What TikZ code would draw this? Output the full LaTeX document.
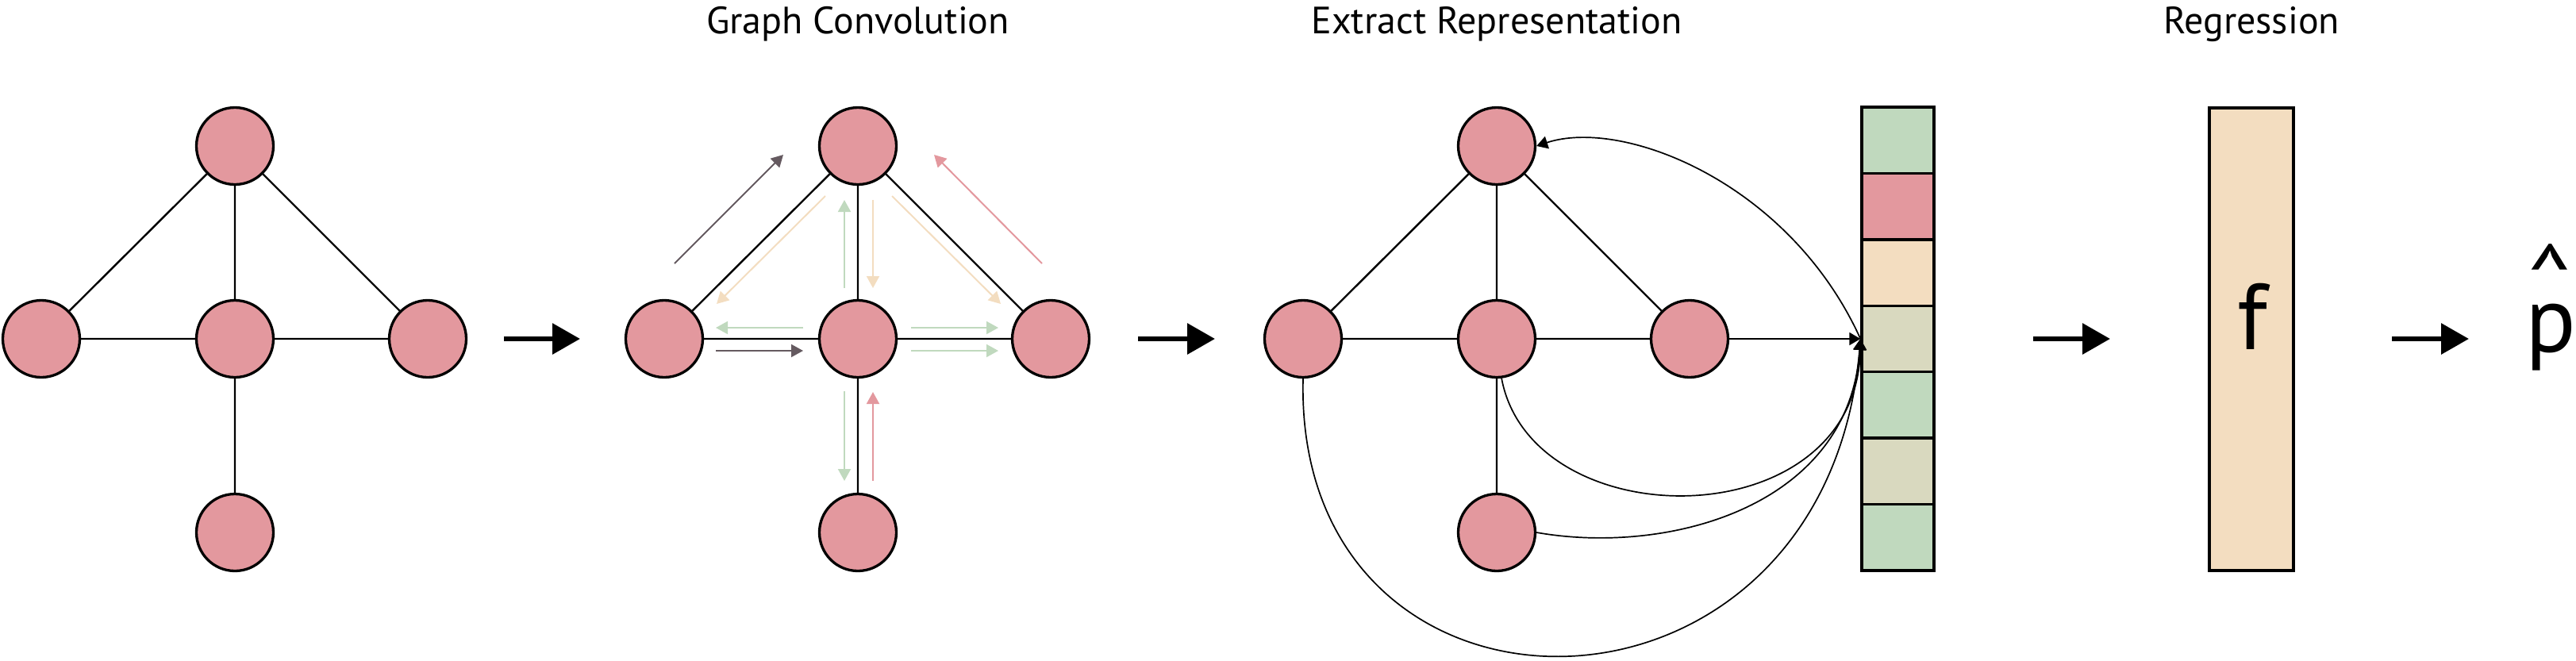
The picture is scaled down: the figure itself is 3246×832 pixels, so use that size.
\documentclass[tikz,border=0pt]{standalone}
\usepackage{fontspec}
\setmainfont{PT Sans}
\usetikzlibrary{arrows.meta}
\definecolor{nodepink}{HTML}{E3989E}
\definecolor{cgreen}{HTML}{C0D9BE}
\definecolor{cpeach}{HTML}{F3DDC0}
\definecolor{ckhaki}{HTML}{D9D9BF}
\definecolor{cdark}{HTML}{655A60}
\begin{document}
\begin{tikzpicture}[x=0.5pt,y=-0.5pt,
  gnode/.style={circle, draw=black, fill=nodepink, line width=1.65pt, minimum size=48.5pt, inner sep=0pt},
  gedge/.style={line width=1.2pt},
  flow/.style={line width=1pt, -{Triangle[length=7.5pt,width=8pt]}},
  bigarrow/.style={line width=3.2pt, -{Triangle[length=17.5pt,width=19pt]}},
  readout/.style={line width=0.85pt, -{Triangle[length=7pt,width=8pt]}},
  cell/.style={draw=black, line width=1.65pt, minimum width=45.5pt, minimum height=41.7pt, inner sep=0pt},
  title/.style={font=\fontsize{24}{28}\selectfont, anchor=base, inner sep=0pt},
]
\path[use as bounding box] (0,0) rectangle (3246,832);

% ---------- Panel 1 ----------
\node[gnode] (t1) at (296,184) {};
\node[gnode] (l1) at (52,427) {};
\node[gnode] (c1) at (296,427) {};
\node[gnode] (r1) at (539,427) {};
\node[gnode] (b1) at (296,671) {};
\draw[gedge] (t1) -- (l1) (t1) -- (c1) (t1) -- (r1) (l1) -- (c1) (c1) -- (r1) (c1) -- (b1);

% ---------- Panel 2 ----------
\node[title] (title2) at (1081,42) {Graph Convolution};
\node[gnode] (t2) at (1081,184) {};
\node[gnode] (l2) at (837,427) {};
\node[gnode] (c2) at (1081,427) {};
\node[gnode] (r2) at (1324,427) {};
\node[gnode] (b2) at (1081,671) {};
\draw[gedge] (t2) -- (l2) (t2) -- (c2) (t2) -- (r2) (l2) -- (c2) (c2) -- (r2) (c2) -- (b2);

\draw[flow, cdark] (850,332) -- (987,195);
\draw[flow, nodepink] (1313,332) -- (1177,195);
\draw[flow, cpeach] (1040,247) -- (903,383);
\draw[flow, cpeach] (1124,247) -- (1261,383);
\draw[flow, cgreen] (1064,363) -- (1064,252);
\draw[flow, cpeach] (1100,252) -- (1100,363);
\draw[flow, cgreen] (1012,413) -- (902,413);
\draw[flow, cdark] (902,442) -- (1012,442);
\draw[flow, cgreen] (1148,413) -- (1258,413);
\draw[flow, cgreen] (1148,442) -- (1258,442);
\draw[flow, cgreen] (1064,493) -- (1064,606);
\draw[flow, nodepink] (1100,606) -- (1100,494);

% ---------- Panel 3 ----------
\node[title] (title3) at (1886,42) {Extract Representation};
\node[gnode] (t3) at (1886,184) {};
\node[gnode] (l3) at (1642,427) {};
\node[gnode] (c3) at (1886,427) {};
\node[gnode] (r3) at (2129,427) {};
\node[gnode] (b3) at (1886,671) {};
\draw[gedge] (t3) -- (l3) (t3) -- (c3) (t3) -- (r3) (l3) -- (c3) (c3) -- (r3) (c3) -- (b3);

\node[cell, fill=cgreen] (v1) at (2391.5,176.7) {};
\node[cell, fill=nodepink] (v2) at (2391.5,260.1) {};
\node[cell, fill=cpeach] (v3) at (2391.5,343.6) {};
\node[cell, fill=ckhaki] (v4) at (2391.5,427) {};
\node[cell, fill=cgreen] (v5) at (2391.5,510.4) {};
\node[cell, fill=ckhaki] (v6) at (2391.5,593.9) {};
\node[cell, fill=cgreen] (v7) at (2391.5,677.3) {};

\draw[readout] (r3) -- (v4.west);
\draw[readout] (v4.west) .. controls (2255,230) and (2045,148) .. (t3.east);
\draw[readout] (c3.-83) .. controls (1930,680) and (2340,680) .. (v4.west);
\draw[readout] (b3.east) .. controls (2100,700) and (2330,640) .. (v4.west);
\draw[readout] (l3.south) .. controls (1630,950) and (2300,950) .. (v4.west);

% ---------- Regression ----------
\node[title] (title4) at (2837,42) {Regression};
\node[draw=black, fill=cpeach, line width=1.9pt, minimum width=53pt, minimum height=291.5pt, inner sep=0pt] (reg) at (2837,427.5) {};
\node[anchor=base, font=\fontsize{59}{70}\selectfont, inner sep=0pt] (fn) at (2838,440) {f};
\node[anchor=base, font=\fontsize{59}{70}\selectfont, inner sep=0pt] (phat) at (3214,443) {\ooalign{p\cr\hidewidth\raisebox{26pt}{\textasciicircum}\hidewidth\cr}};

% ---------- stage arrows ----------
\coordinate (a1s) at (635,427);  \coordinate (a1e) at (731,427);
\coordinate (a2s) at (1434,427); \coordinate (a2e) at (1531,427);
\coordinate (a3s) at (2562,427); \coordinate (a3e) at (2659,427);
\coordinate (a4s) at (3014,427); \coordinate (a4e) at (3111,427);
\draw[bigarrow] (a1s) -- (a1e);
\draw[bigarrow] (a2s) -- (a2e);
\draw[bigarrow] (a3s) -- (a3e);
\draw[bigarrow] (a4s) -- (a4e);
\end{tikzpicture}
\end{document}
